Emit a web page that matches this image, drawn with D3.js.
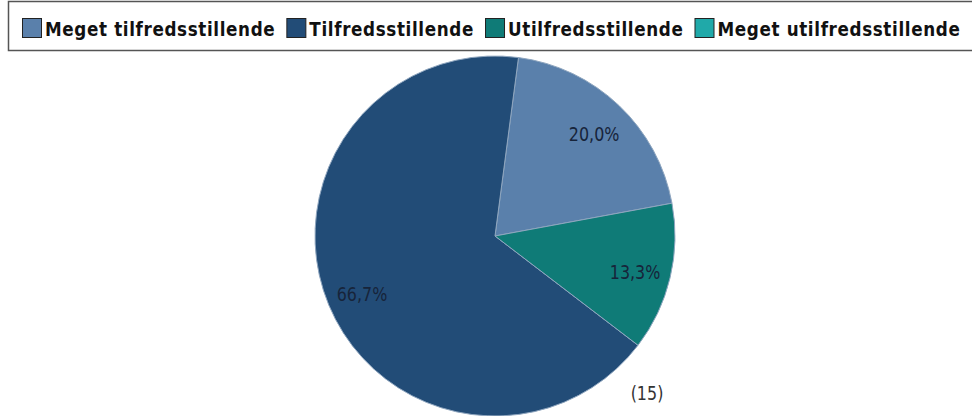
<!DOCTYPE html>
<html>
<head>
<meta charset="utf-8">
<script src="https://cdn.jsdelivr.net/npm/d3@7"></script>
<style>
  html, body { margin: 0; padding: 0; background: #fff; }
  svg { display: block; }
</style>
</head>
<body>
<div id="chart"></div>
<script>
// Data
const categories = ["Meget tilfredsstillende", "Tilfredsstillende", "Utilfredsstillende", "Meget utilfredsstillende"];
const shares = [20.0, 66.7, 13.3, 0];
const labels = ["20,0%", "66,7%", "13,3%", ""];
const colors = ["#5a80ab", "#224c77", "#0f7b77", "#20a9a9"];
// clockwise order of slices in the pie
const sliceOrder = [0, 2, 1, 3];
const totalN = "(15)";

const width = 972, height = 416;
const cx = 495, cy = 236, radius = 180;
const squeeze = 0.84; // text in the reference is narrower than DejaVu

const svg = d3.select("#chart").append("svg")
    .attr("width", width)
    .attr("height", height)
    .style("font-family", "'DejaVu Sans', sans-serif");

// Legend
const legend = svg.append("g");
legend.append("rect")
    .attr("x", 8.5).attr("y", 1.5)
    .attr("width", 980).attr("height", 49)
    .attr("fill", "#fff")
    .attr("stroke", "#555")
    .attr("stroke-width", 1.5);

let lx = 22;
categories.forEach((c, i) => {
    const item = legend.append("g").attr("transform", `translate(${lx},0)`);
    item.append("rect")
        .attr("x", 0.5).attr("y", 18.5)
        .attr("width", 19).attr("height", 19)
        .attr("fill", colors[i])
        .attr("stroke", "#222");
    const t = item.append("text")
        .attr("transform", `translate(23,36) scale(${squeeze},1)`)
        .style("font-size", "20px")
        .style("font-weight", "bold")
        .style("letter-spacing", "0.75px")
        .attr("fill", "#111")
        .text(c);
    lx += 23 + t.node().getComputedTextLength() * squeeze + 11;
});

// Pie
const startA = 7.5 * Math.PI / 180;
const pie = d3.pie()
    .value(i => shares[i])
    .sort((a, b) => sliceOrder.indexOf(a) - sliceOrder.indexOf(b))
    .startAngle(startA).endAngle(startA + 2 * Math.PI);
const arcs = pie(d3.range(categories.length)).filter(d => d.value > 0);
const arc = d3.arc().innerRadius(0).outerRadius(radius);
const labelArc = d3.arc().innerRadius(radius * 0.8).outerRadius(radius * 0.8);

const g = svg.append("g").attr("transform", `translate(${cx},${cy})`);

g.selectAll("path")
    .data(arcs)
    .join("path")
    .attr("d", arc)
    .attr("fill", d => colors[d.data])
    .attr("stroke", "#8fa6bf")
    .attr("stroke-width", 1);

g.selectAll("text.lbl")
    .data(arcs)
    .join("text")
    .attr("class", "lbl")
    .attr("transform", d => {
        const [x, y] = labelArc.centroid(d);
        return `translate(${x},${y + 3}) scale(${squeeze},1)`;
    })
    .attr("text-anchor", "middle")
    .attr("dy", "0.35em")
    .style("font-size", "19px")
    .attr("fill", "#17243a")
    .text(d => labels[d.data]);

svg.append("text")
    .attr("transform", `translate(647,400) scale(${squeeze},1)`)
    .attr("text-anchor", "middle")
    .style("font-size", "19px")
    .attr("fill", "#333")
    .text(totalN);
</script>
</body>
</html>
